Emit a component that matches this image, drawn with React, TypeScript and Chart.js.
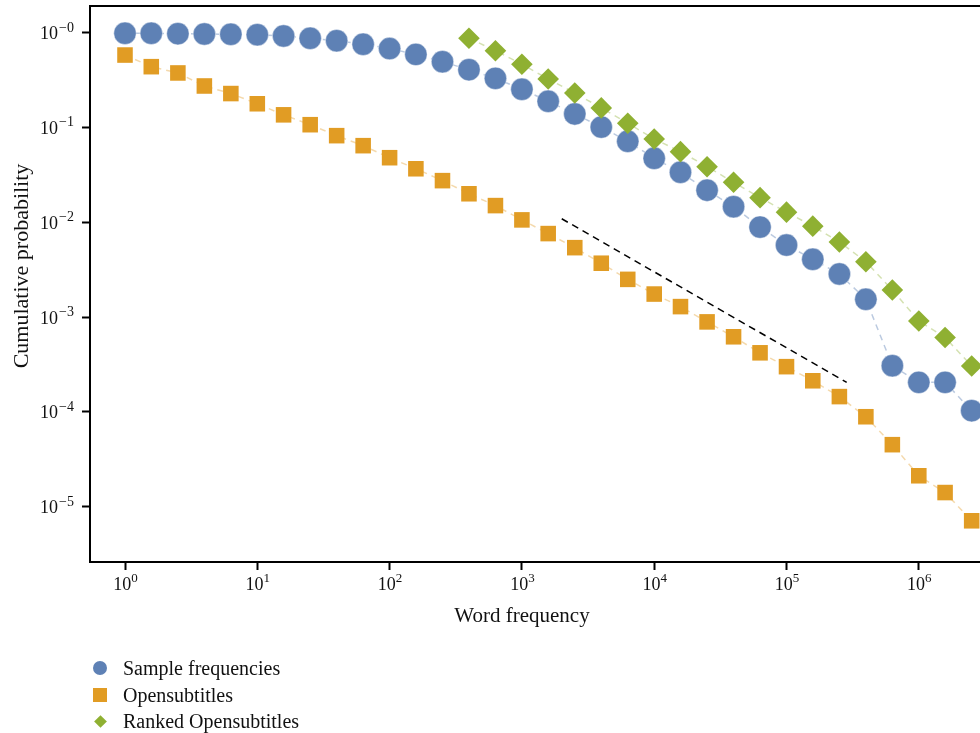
import React, { useEffect, useRef } from 'react';
import { Chart, registerables } from 'chart.js';

Chart.register(...registerables);

// ---------------- data ----------------
const wordFrequencies = [
  1, 1.58, 2.51, 3.98, 6.31, 10, 15.8, 25.1, 39.8, 63.1, 100, 158, 251, 398, 631,
  1000, 1580, 2510, 3980, 6310, 10000, 15800, 25100, 39800, 63100, 100000, 158000,
  251000, 398000, 631000, 1000000, 1580000, 2510000,
];

const sampleValues = [
  0.986, 0.986, 0.976, 0.969, 0.962, 0.952, 0.923, 0.873, 0.823, 0.755, 0.68, 0.59,
  0.494, 0.407, 0.33, 0.253, 0.189, 0.139, 0.101, 0.0715, 0.0473, 0.0337, 0.0218,
  0.0146, 0.0089, 0.00575, 0.00407, 0.00285, 0.00154, 0.000307, 0.000205, 0.000205,
  0.000103,
];

const opensubtitlesValues = [
  0.581, 0.438, 0.376, 0.274, 0.228, 0.178, 0.136, 0.107, 0.082, 0.0643, 0.048,
  0.0367, 0.0275, 0.02, 0.015, 0.0106, 0.0076, 0.0054, 0.0037, 0.0025, 0.00175,
  0.00129, 0.00089, 0.00062, 0.00042, 0.0003, 0.000213, 0.000145, 0.0000889,
  0.0000451, 0.0000212, 0.0000141, 0.0000071,
];

const rankedFrequencies = [
  398, 631, 1000, 1580, 2510, 3980, 6310, 10000, 15800, 25100, 39800, 63100, 100000,
  158000, 251000, 398000, 631000, 1000000, 1580000, 2510000,
];

const rankedValues = [
  0.873, 0.646, 0.464, 0.325, 0.231, 0.161, 0.111, 0.0757, 0.0556, 0.0386, 0.0264,
  0.0182, 0.0128, 0.0091, 0.0062, 0.00384, 0.00193, 0.00091, 0.00061, 0.000305,
];

const referenceX = [2000, 285000];
const referenceY = [0.0109, 0.000205];

const seriesNames = ['Sample frequencies', 'Opensubtitles', 'Ranked Opensubtitles'];

const tickBase = '10';
const xTickValues = [1, 10, 100, 1000, 10000, 100000, 1000000];
const xTickExponents = ['0', '1', '2', '3', '4', '5', '6'];
const yTickValues = [1, 0.1, 0.01, 0.001, 0.0001, 0.00001];
const yTickExponents = ['\u22120', '\u22121', '\u22122', '\u22123', '\u22124', '\u22125'];

const xTitle = 'Word frequency';
const yTitle = 'Cumulative probability';

// ---------------- style ----------------
const FONT = '"Liberation Serif", "Times New Roman", serif';
const BLUE = '#5E81B5';
const ORANGE = '#E19C24';
const GREEN = '#8FB032';
const TEXT = '#111';

const axisTextPlugin = {
  id: 'axisText',
  afterDraw(chart: any) {
    const { ctx } = chart;
    const xs = chart.scales.x;
    const ys = chart.scales.y;
    const baseFont = `18px ${FONT}`;
    const expFont = `13px ${FONT}`;
    const yExpFont = `14px ${FONT}`;
    const raise = 7.5;
    ctx.save();
    ctx.fillStyle = TEXT;
    ctx.textBaseline = 'alphabetic';
    ctx.textAlign = 'left';

    // x tick labels
    const xBaseline = xs.top + 28;
    xTickValues.forEach((v, i) => {
      const px = xs.getPixelForValue(v);
      ctx.font = baseFont;
      const bw = ctx.measureText(tickBase).width;
      ctx.font = expFont;
      const ew = ctx.measureText(xTickExponents[i]).width;
      const start = px - (bw + ew) / 2 + 0.5;
      ctx.font = baseFont;
      ctx.fillText(tickBase, start, xBaseline);
      ctx.font = expFont;
      ctx.fillText(xTickExponents[i], start + bw, xBaseline - raise - 1);
    });

    // y tick labels
    const rightEdge = ys.right - 16;
    yTickValues.forEach((v, i) => {
      const py = ys.getPixelForValue(v);
      const baseline = py + 6.5;
      ctx.font = yExpFont;
      const ew = ctx.measureText(yTickExponents[i]).width;
      ctx.font = baseFont;
      const bw = ctx.measureText(tickBase).width;
      const start = rightEdge - ew - bw - 1;
      ctx.fillText(tickBase, start, baseline);
      ctx.font = yExpFont;
      ctx.fillText(yTickExponents[i], start + bw + 1, baseline - raise);
    });

    // axis titles
    ctx.textAlign = 'center';
    ctx.font = `21px ${FONT}`;
    ctx.fillText(xTitle, 522, 622);
    ctx.font = `22px ${FONT}`;
    ctx.translate(28, 266);
    ctx.rotate(-Math.PI / 2);
    ctx.fillText(yTitle, 0, 0);
    ctx.restore();
  },
};

function LegendMarker({ kind }: { kind: number }) {
  if (kind === 0) {
    return <div style={{ width: 14, height: 14, borderRadius: 7, background: BLUE }} />;
  }
  if (kind === 1) {
    return <div style={{ width: 14, height: 14, background: ORANGE }} />;
  }
  return (
    <div style={{ width: 14, height: 14, display: 'flex', alignItems: 'center', justifyContent: 'center' }}>
      <div style={{ width: 9, height: 9, background: GREEN, transform: 'rotate(45deg)' }} />
    </div>
  );
}

export default function App() {
  const canvasRef = useRef<HTMLCanvasElement | null>(null);

  useEffect(() => {
    const canvas = canvasRef.current;
    if (!canvas) return;

    const lineDash = [6, 5];
    const tickGrid = {
      display: true,
      drawOnChartArea: false,
      drawTicks: true,
      tickLength: 8,
      tickWidth: 2,
      tickColor: '#000',
    };
    const chart = new Chart(canvas, {
      type: 'line',
      data: {
        datasets: [
          {
            label: seriesNames[0],
            data: wordFrequencies.map((x, i) => ({ x, y: sampleValues[i] })),
            borderColor: 'rgba(94,129,181,0.42)',
            borderWidth: 1.5,
            borderDash: lineDash,
            pointStyle: 'circle',
            pointRadius: 11.2,
            pointBackgroundColor: BLUE,
            pointBorderColor: 'rgba(255,255,255,0.55)',
            pointBorderWidth: 0.8,
            fill: false,
            tension: 0,
            order: 2,
          },
          {
            label: seriesNames[1],
            data: wordFrequencies.map((x, i) => ({ x, y: opensubtitlesValues[i] })),
            borderColor: 'rgba(225,156,36,0.38)',
            borderWidth: 1.5,
            borderDash: lineDash,
            pointStyle: 'rect',
            pointRadius: 11,
            pointBackgroundColor: ORANGE,
            pointBorderWidth: 0,
            fill: false,
            tension: 0,
            order: 1,
          },
          {
            label: seriesNames[2],
            data: rankedFrequencies.map((x, i) => ({ x, y: rankedValues[i] })),
            borderColor: 'rgba(143,176,50,0.38)',
            borderWidth: 1.5,
            borderDash: lineDash,
            pointStyle: 'rectRot',
            pointRadius: 10.8,
            pointBackgroundColor: GREEN,
            pointBorderWidth: 0,
            fill: false,
            tension: 0,
            order: 0,
          },
          {
            label: 'reference',
            data: referenceX.map((x, i) => ({ x, y: referenceY[i] })),
            borderColor: '#000',
            borderWidth: 1.5,
            borderDash: [7, 5],
            pointRadius: 0,
            fill: false,
            order: 3,
          },
        ],
      },
      options: {
        responsive: false,
        animation: false,
        events: [],
        layout: { autoPadding: false, padding: { top: 6, left: 0, right: 0, bottom: 105 } },
        plugins: {
          legend: { display: false },
          tooltip: { enabled: false },
        },
        scales: {
          x: {
            type: 'logarithmic',
            position: 'bottom',
            min: 0.5438,
            max: 2.901e6,
            bounds: 'data',
            afterBuildTicks: (scale: any) => {
              scale.ticks = xTickValues.map((v) => ({ value: v }));
            },
            afterFit: (scale: any) => {
              scale.height = 66;
            },
            grid: tickGrid,
            border: { display: true, color: '#000', width: 2 },
            ticks: { display: false, autoSkip: false },
            title: { display: false },
          },
          x2: {
            type: 'logarithmic',
            position: 'top',
            min: 0.5438,
            max: 2.901e6,
            bounds: 'data',
            afterFit: (scale: any) => {
              scale.height = 0;
            },
            grid: { display: false, drawTicks: false },
            border: { display: true, color: '#000', width: 2 },
            ticks: { display: false },
          },
          y: {
            type: 'logarithmic',
            position: 'left',
            min: 2.61e-6,
            max: 1.912,
            bounds: 'data',
            afterBuildTicks: (scale: any) => {
              scale.ticks = yTickValues.map((v) => ({ value: v }));
            },
            afterFit: (scale: any) => {
              scale.width = 90;
            },
            grid: tickGrid,
            border: { display: true, color: '#000', width: 2 },
            ticks: { display: false, autoSkip: false },
            title: { display: false },
          },
        },
      },
      plugins: [axisTextPlugin],
    } as any);

    return () => {
      chart.destroy();
    };
  }, []);

  const legendTops = [668, 695, 721];

  return (
    <div
      style={{
        position: 'fixed',
        left: 0,
        top: 0,
        width: 980,
        height: 733,
        background: '#fff',
        overflow: 'hidden',
      }}
    >
      <canvas ref={canvasRef} width={980} height={733} style={{ display: 'block', width: 980, height: 733 }} />
      {seriesNames.map((name, i) => (
        <div
          key={name}
          style={{
            position: 'absolute',
            left: 93,
            top: legendTops[i] - 13,
            height: 26,
            display: 'flex',
            alignItems: 'center',
            fontFamily: FONT,
            fontSize: 20,
            color: TEXT,
            whiteSpace: 'nowrap',
          }}
        >
          <LegendMarker kind={i} />
          <span style={{ marginLeft: 16 }}>{name}</span>
        </div>
      ))}
    </div>
  );
}
